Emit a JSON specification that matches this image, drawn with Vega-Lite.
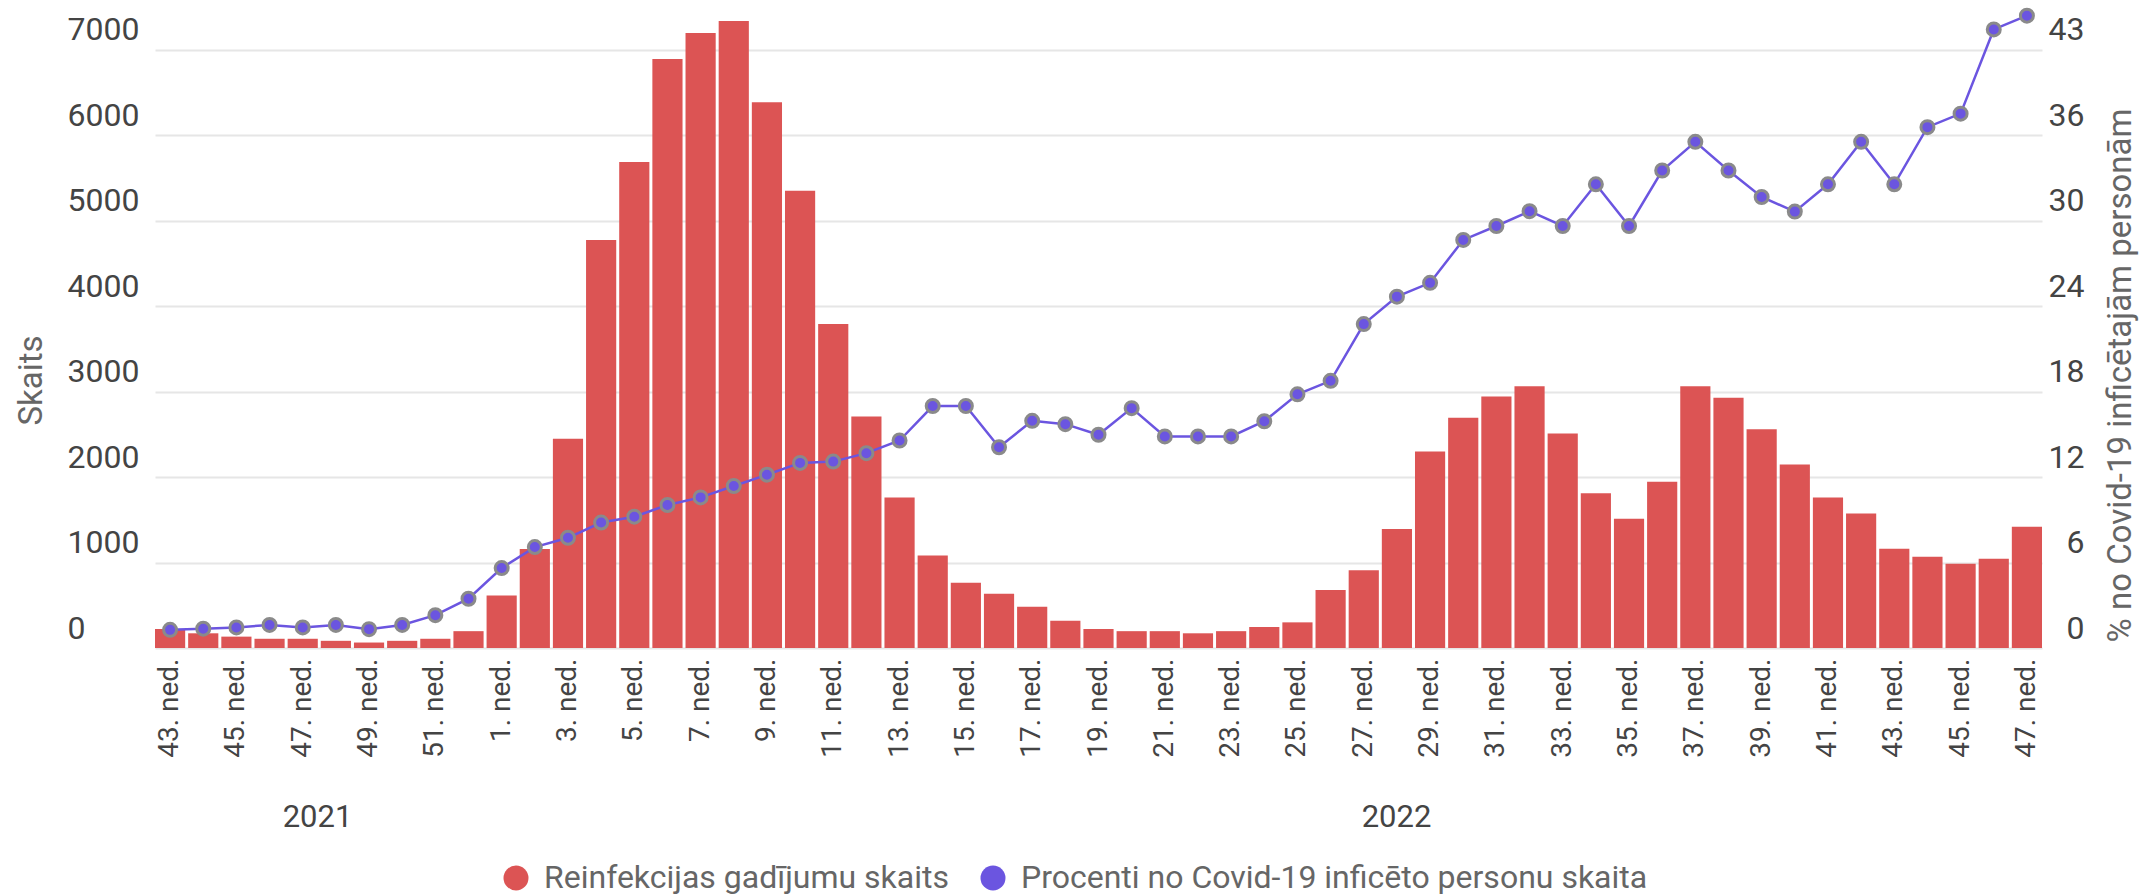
{
  "$schema": "https://vega.github.io/schema/vega-lite/v6.json",
  "width": 2019,
  "height": 641,
  "autosize": {"type": "none"},
  "padding": {"left": 66, "top": 7, "right": 56, "bottom": 247},
  "background": "white",
  "config": {
    "view": {"stroke": null},
    "font": "Roboto"
  },
  "data": {
    "values": [
      {"key": "2021-43", "year": "2021", "count": 222, "pct": 1.29},
      {"key": "2021-44", "year": "2021", "count": 172, "pct": 1.37},
      {"key": "2021-45", "year": "2021", "count": 133, "pct": 1.46},
      {"key": "2021-46", "year": "2021", "count": 108, "pct": 1.64},
      {"key": "2021-47", "year": "2021", "count": 108, "pct": 1.46},
      {"key": "2021-48", "year": "2021", "count": 84, "pct": 1.64},
      {"key": "2021-49", "year": "2021", "count": 64, "pct": 1.34},
      {"key": "2021-50", "year": "2021", "count": 84, "pct": 1.64},
      {"key": "2021-51", "year": "2021", "count": 108, "pct": 2.33},
      {"key": "2021-52", "year": "2021", "count": 197, "pct": 3.5},
      {"key": "2022-1", "year": "2022", "count": 615, "pct": 5.68},
      {"key": "2022-2", "year": "2022", "count": 1157, "pct": 7.17},
      {"key": "2022-3", "year": "2022", "count": 2447, "pct": 7.83},
      {"key": "2022-4", "year": "2022", "count": 4775, "pct": 8.91},
      {"key": "2022-5", "year": "2022", "count": 5686, "pct": 9.33},
      {"key": "2022-6", "year": "2022", "count": 6892, "pct": 10.16},
      {"key": "2022-7", "year": "2022", "count": 7197, "pct": 10.7},
      {"key": "2022-8", "year": "2022", "count": 7335, "pct": 11.51},
      {"key": "2022-9", "year": "2022", "count": 6385, "pct": 12.31},
      {"key": "2022-10", "year": "2022", "count": 5351, "pct": 13.15},
      {"key": "2022-11", "year": "2022", "count": 3791, "pct": 13.24},
      {"key": "2022-12", "year": "2022", "count": 2708, "pct": 13.84},
      {"key": "2022-13", "year": "2022", "count": 1762, "pct": 14.74},
      {"key": "2022-14", "year": "2022", "count": 1083, "pct": 17.19},
      {"key": "2022-15", "year": "2022", "count": 763, "pct": 17.19},
      {"key": "2022-16", "year": "2022", "count": 635, "pct": 14.26},
      {"key": "2022-17", "year": "2022", "count": 482, "pct": 16.14},
      {"key": "2022-18", "year": "2022", "count": 320, "pct": 15.9},
      {"key": "2022-19", "year": "2022", "count": 222, "pct": 15.15},
      {"key": "2022-20", "year": "2022", "count": 197, "pct": 17.04},
      {"key": "2022-21", "year": "2022", "count": 197, "pct": 15.03},
      {"key": "2022-22", "year": "2022", "count": 172, "pct": 15.03},
      {"key": "2022-23", "year": "2022", "count": 197, "pct": 15.03},
      {"key": "2022-24", "year": "2022", "count": 246, "pct": 16.11},
      {"key": "2022-25", "year": "2022", "count": 300, "pct": 18.02},
      {"key": "2022-26", "year": "2022", "count": 679, "pct": 18.98},
      {"key": "2022-27", "year": "2022", "count": 911, "pct": 23.01},
      {"key": "2022-28", "year": "2022", "count": 1393, "pct": 24.96},
      {"key": "2022-29", "year": "2022", "count": 2299, "pct": 25.94},
      {"key": "2022-30", "year": "2022", "count": 2693, "pct": 28.99},
      {"key": "2022-31", "year": "2022", "count": 2944, "pct": 29.98},
      {"key": "2022-32", "year": "2022", "count": 3062, "pct": 31.03},
      {"key": "2022-33", "year": "2022", "count": 2511, "pct": 29.98},
      {"key": "2022-34", "year": "2022", "count": 1812, "pct": 32.94},
      {"key": "2022-35", "year": "2022", "count": 1511, "pct": 29.98},
      {"key": "2022-36", "year": "2022", "count": 1945, "pct": 33.92},
      {"key": "2022-37", "year": "2022", "count": 3062, "pct": 35.96},
      {"key": "2022-38", "year": "2022", "count": 2929, "pct": 33.92},
      {"key": "2022-39", "year": "2022", "count": 2560, "pct": 32.04},
      {"key": "2022-40", "year": "2022", "count": 2146, "pct": 31.0},
      {"key": "2022-41", "year": "2022", "count": 1762, "pct": 32.94},
      {"key": "2022-42", "year": "2022", "count": 1575, "pct": 35.96},
      {"key": "2022-43", "year": "2022", "count": 1162, "pct": 32.94},
      {"key": "2022-44", "year": "2022", "count": 1068, "pct": 37.0},
      {"key": "2022-45", "year": "2022", "count": 985, "pct": 37.96},
      {"key": "2022-46", "year": "2022", "count": 1044, "pct": 43.94},
      {"key": "2022-47", "year": "2022", "count": 1418, "pct": 44.92}
    ]
  },
  "layer": [
    {
      "layer": [
        {
          "mark": {"type": "bar"},
          "encoding": {
            "x": {
              "field": "key", "type": "ordinal", "sort": null,
              "scale": {"range": [89, 1976], "paddingInner": 0.09, "paddingOuter": 0},
              "axis": {
                "orient": "bottom", "title": null, "labelAngle": -90,
                "labelExpr": "toNumber(substring(datum.value, 5)) % 2 === 1 ? substring(datum.value, 5) + '. ned.' : ''",
                "labelOverlap": false, "labelFontSize": 28, "labelColor": "#444444",
                "labelPadding": 10, "domain": false, "ticks": false, "tickSize": 0, "grid": false
              }
            },
            "y": {
              "field": "count", "type": "quantitative",
              "scale": {"domain": [0, 7500], "nice": false},
              "axis": {
                "orient": "left", "title": "Skaits",
                "values": [0, 1000, 2000, 3000, 4000, 5000, 6000, 7000], "format": "d",
                "grid": true, "gridColor": "#e6e6e6", "gridWidth": 2,
                "domain": false, "ticks": false, "tickSize": 0,
                "labelAlign": "left", "labelBaseline": "alphabetic", "labelOffset": -10, "labelPadding": -1,
                "labelFontSize": 32, "labelColor": "#444444",
                "titleFontSize": 33, "titleColor": "#666666", "titleFontWeight": "normal",
                "titleX": -35, "titleY": 373, "titleAngle": -90, "titleAlign": "center", "titleBaseline": "middle"
              }
            },
            "color": {
              "datum": "Reinfekcijas gadījumu skaits",
              "scale": {
                "domain": ["Reinfekcijas gadījumu skaits", "Procenti no Covid-19 inficēto personu skaita"],
                "range": ["#dc5454", "#6b55e0"]
              },
              "legend": {
                "orient": "none", "legendX": 434, "legendY": 855,
                "direction": "horizontal", "title": null,
                "symbolType": "circle", "symbolSize": 625, "symbolStrokeWidth": 0, "symbolOpacity": 1,
                "labelFontSize": 32, "labelColor": "#666666", "labelLimit": 0,
                "labelOffset": 12, "columnPadding": 28, "padding": 0
              }
            }
          }
        },
        {
          "layer": [
            {
              "mark": {"type": "line", "color": "#6b55e0", "strokeWidth": 2.5},
              "encoding": {
                "x": {"field": "key", "type": "ordinal", "sort": null},
                "y": {
                  "field": "pct", "type": "quantitative",
                  "scale": {"domain": [0, 45.536], "nice": false},
                  "axis": {
                    "orient": "right", "title": "% no Covid-19 inficētajām personām",
                    "values": [0, 6.0714, 12.1429, 18.2143, 24.2857, 30.3571, 36.4286, 42.5], "format": ".0f",
                    "grid": false, "domain": false, "ticks": false, "tickSize": 0,
                    "labelAlign": "right", "labelBaseline": "alphabetic", "labelOffset": -10, "labelPadding": -1,
                    "labelFontSize": 32, "labelColor": "#444444",
                    "titleFontSize": 33, "titleColor": "#666666", "titleFontWeight": "normal",
                    "titleX": 35, "titleY": 368, "titleAngle": -90, "titleAlign": "center", "titleBaseline": "middle"
                  }
                }
              }
            },
            {
              "mark": {"type": "point", "filled": true, "size": 169, "opacity": 1, "stroke": "#8a8a8a", "strokeWidth": 3},
              "encoding": {
                "x": {"field": "key", "type": "ordinal", "sort": null},
                "y": {"field": "pct", "type": "quantitative"},
                "color": {"datum": "Procenti no Covid-19 inficēto personu skaita"}
              }
            }
          ]
        }
      ],
      "resolve": {"scale": {"y": "independent"}}
    },
    {
      "mark": {"type": "point", "opacity": 0},
      "encoding": {
        "x": {
          "field": "year", "type": "nominal",
          "scale": {"type": "point", "range": [251, 1330], "padding": 0},
          "axis": {
            "orient": "bottom", "title": null, "labelAngle": 0, "labelFontSize": 31,
            "labelColor": "#444444", "labelPadding": 169, "labelBaseline": "middle",
            "domain": false, "ticks": false, "tickSize": 0, "grid": false
          }
        }
      }
    }
  ],
  "resolve": {"scale": {"x": "independent"}}
}
